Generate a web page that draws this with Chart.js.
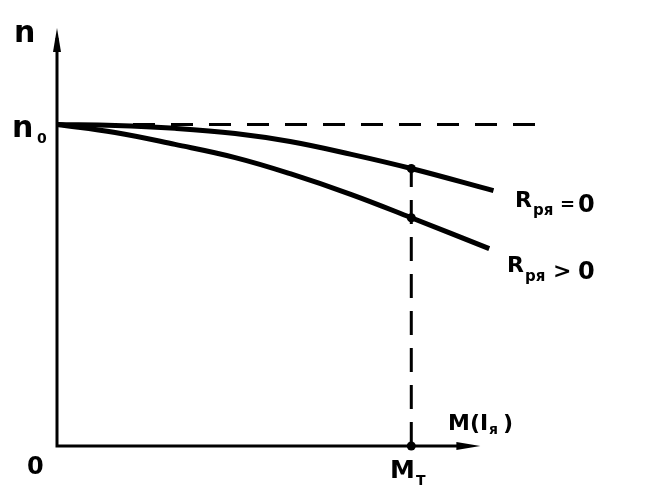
<!DOCTYPE html>
<html>
<head>
<meta charset="utf-8">
<script src="https://cdn.jsdelivr.net/npm/chart.js@4.4.1/dist/chart.umd.min.js"></script>
<style>
  body { margin: 0; background: #fff; }
  canvas { display: block; }
</style>
</head>
<body>
<canvas id="chart" width="655" height="496"></canvas>
<script>
// M in units of M_T, n in units of n0
var mZero = [0, 0.164, 0.333, 0.503, 0.658, 0.831, 1.0, 1.232];
var nZero = [1.0, 0.997, 0.988, 0.972, 0.947, 0.907, 0.863, 0.794];
var mPos = [0, 0.164, 0.333, 0.503, 0.658, 0.831, 1.0, 1.22];
var nPos = [1.0, 0.975, 0.938, 0.897, 0.847, 0.782, 0.71, 0.614];
var idleLine = [[0, 1], [1.378, 1]];
var mtLine = [[1, 0], [1, 0.863]];
var marks = [[1, 0.863], [1, 0.71], [1, 0]];

function pts(xs, ys) {
  return xs.map(function (x, i) { return { x: x, y: ys[i] }; });
}
function pairs(a) {
  return a.map(function (p) { return { x: p[0], y: p[1] }; });
}

var ink = '#000';

var sketch = {
  id: 'sketch',
  afterDatasetsDraw: function (chart) {
    var c = chart.ctx, xs = chart.scales.x, ys = chart.scales.y;
    var ox = xs.getPixelForValue(0), oy = ys.getPixelForValue(0);
    var top = ys.getPixelForValue(1.3);
    var right = xs.getPixelForValue(1.195);
    c.save();
    c.strokeStyle = ink; c.fillStyle = ink;
    c.lineWidth = 3; c.lineCap = 'butt';
    // axes
    c.beginPath();
    c.moveTo(ox, top + 10); c.lineTo(ox, oy); c.lineTo(right - 12, oy);
    c.stroke();
    // arrows
    c.beginPath();
    c.moveTo(ox, top); c.lineTo(ox - 4, top + 24); c.lineTo(ox + 4, top + 24); c.closePath(); c.fill();
    c.beginPath();
    c.moveTo(right, oy); c.lineTo(right - 24, oy - 4); c.lineTo(right - 24, oy + 4); c.closePath(); c.fill();

    c.textBaseline = 'alphabetic';
    function t(s, x, y, size) {
      c.font = 'bold ' + size + 'px "DejaVu Sans"';
      c.fillText(s, x, y);
    }
    t('n', 14, 42, 30);
    t('n', 12, 137, 30);
    t('0', 37, 143, 14);
    t('0', 27, 474, 24);
    t('M', 390, 478, 25);
    t('T', 416, 485, 14);
    t('M(I', 448, 430, 22);
    t('я', 489, 434, 14);
    t(')', 503, 430, 22);
    t('R', 515, 207, 22);
    t('ря', 533, 215, 15);
    t('=', 560, 210, 18);
    t('0', 578, 212, 24);
    t('R', 507, 272, 22);
    t('ря', 525, 281, 15);
    t('>', 553, 278, 22);
    t('0', 578, 279, 24);
    c.restore();
  }
};

new Chart(document.getElementById('chart'), {
  type: 'scatter',
  data: {
    datasets: [
      { data: pairs(idleLine), showLine: true, borderColor: ink, borderWidth: 3, borderDash: [22, 16], pointRadius: 0 },
      { data: pairs(mtLine), showLine: true, borderColor: ink, borderWidth: 3, borderDash: [24, 13], pointRadius: 0 },
      { data: pts(mZero, nZero), showLine: true, borderColor: ink, borderWidth: 5, tension: 0.4, pointRadius: 0 },
      { data: pts(mPos, nPos), showLine: true, borderColor: ink, borderWidth: 5, tension: 0.4, pointRadius: 0 },
      { data: pairs(marks), pointRadius: 4.5, pointBackgroundColor: ink, pointBorderWidth: 0 }
    ]
  },
  options: {
    responsive: false,
    animation: false,
    clip: false,
    layout: { padding: { left: 57, right: 102, top: 28, bottom: 50 } },
    plugins: { legend: { display: false }, tooltip: { enabled: false } },
    scales: {
      x: { type: 'linear', min: 0, max: 1.4, display: false },
      y: { type: 'linear', min: 0, max: 1.3, display: false }
    }
  },
  plugins: [sketch]
});
</script>
</body>
</html>
